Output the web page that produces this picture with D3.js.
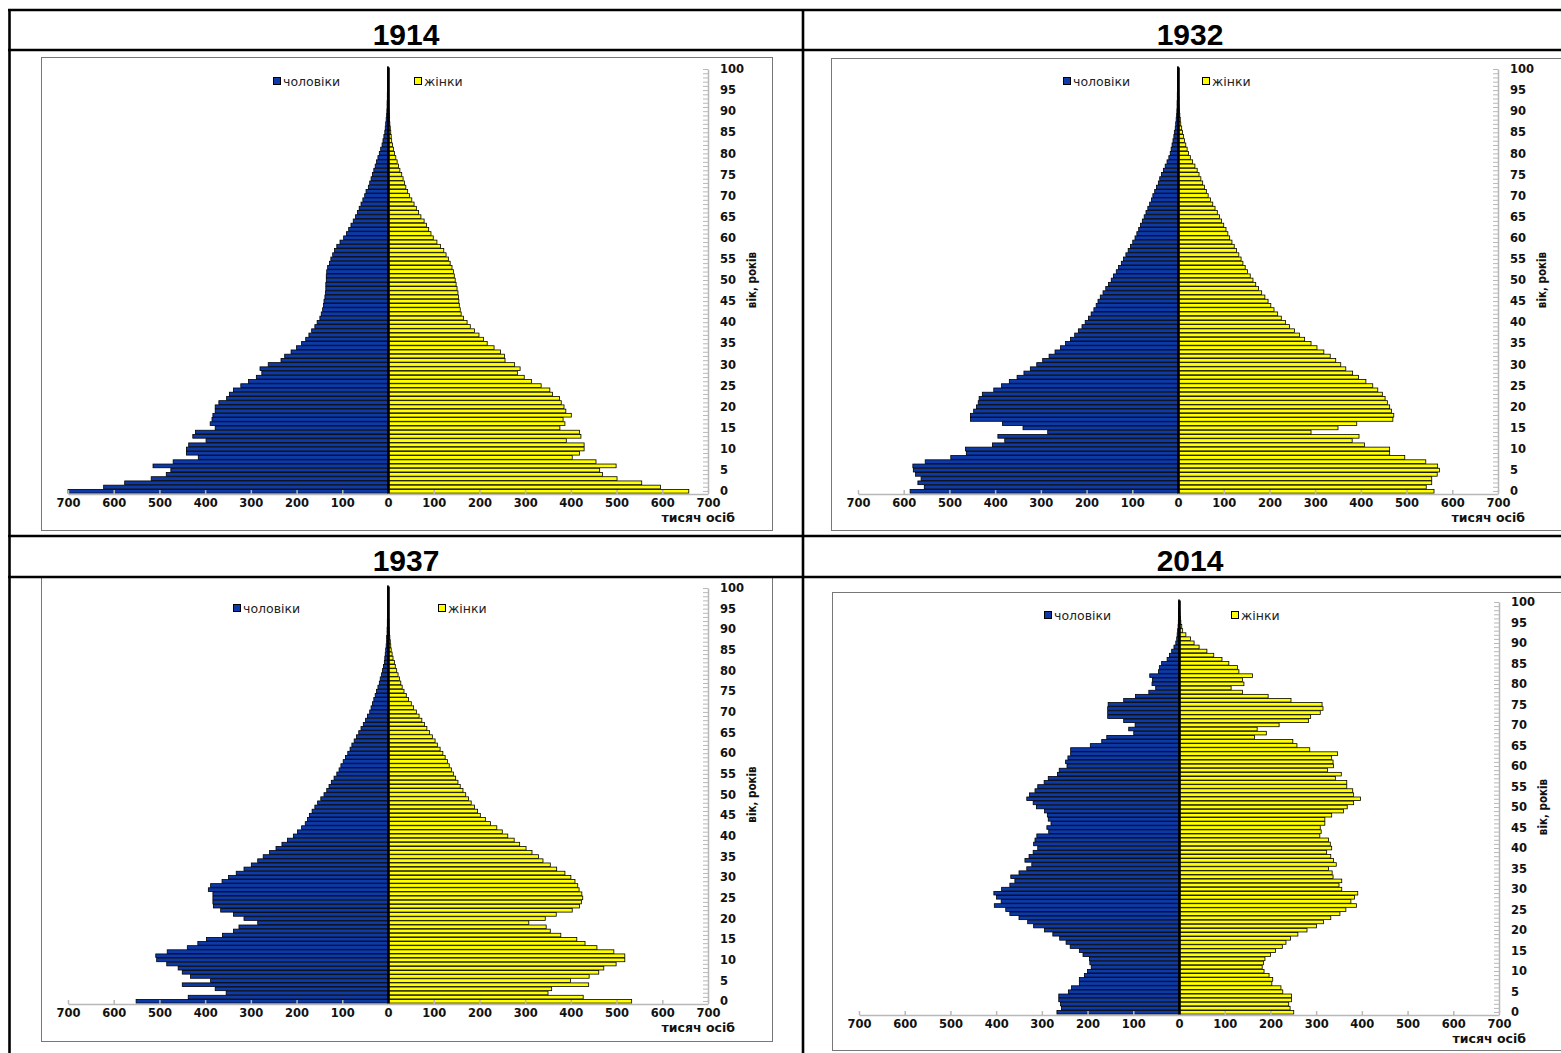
<!DOCTYPE html>
<html>
<head>
<meta charset="utf-8">
<script src="https://cdn.jsdelivr.net/npm/d3@7"></script>
<style>
body{margin:0;background:#fff}
</style>
</head>
<body>
<div id="chart"></div>
<script>
// categories and tick labels
const ages = d3.range(0, 101);
const xTicks = [0, 100, 200, 300, 400, 500, 600, 700];
const ageTicks = d3.range(0, 101, 5);
const legendLabels = ["чоловіки", "жінки"];

// population, thousand persons, index = age in years
const male1914 = [
  700,622,576,518,485,475,514,470,415,441,
  441,436,398,427,421,378,389,385,383,378,
  378,370,353,347,338,322,305,288,276,280,
  262,234,226,212,200,189,180,173,167,160,
  155,149,146,143,141,140,138,137,136,136,
  135,135,134,132,128,125,121,117,112,105,
  97,91,86,81,76,71,67,63,59,55,
  51,48,43,40,37,34,31,28,25,22,
  19,16,13,11,9,7,6,5,4,3,
  2.5,2,2,1.5,1.5,1,1,1,1,1,
  1];
const female1914 = [
  658,596,555,501,469,463,499,455,403,419,
  429,429,390,422,419,376,387,383,401,389,
  385,379,375,360,354,335,314,298,283,289,
  277,256,255,246,232,217,209,199,189,180,
  173,165,160,158,156,155,154,153,151,149,
  147,145,143,140,136,132,127,122,115,107,
  99,94,89,84,79,72,67,62,57,52,
  47,43,39,36,33,30,26,23,20,17,
  14,12,10,8,7,6,5,4,3.5,3,
  2.5,2,2,1.5,1.5,1,1,1,1,1,
  1];
const male1932 = [
  586,555,569,562,574,579,580,553,497,463,
  465,406,379,394,285,339,384,454,454,447,
  441,437,435,428,403,386,369,352,337,323,
  309,296,282,269,257,246,235,226,218,210,
  203,196,190,184,179,175,170,164,158,152,
  146,141,135,130,124,119,114,109,104,99,
  94,90,86,82,78,74,70,66,62,58,
  55,51,47,43,40,36,32,28,24,20,
  17,15,13,11,9,8,6,5,4,3,
  2.5,2,2,1.5,1.5,1,1,1,1,1,
  1];
const female1932 = [
  560,543,555,555,567,572,568,542,496,463,
  463,408,381,396,291,350,391,470,472,467,
  463,458,453,447,437,426,411,395,382,367,
  356,345,333,319,304,291,277,266,255,244,
  235,226,218,210,203,197,190,183,176,170,
  164,158,152,147,142,138,133,128,123,118,
  113,109,105,100,95,91,86,81,76,71,
  66,62,58,54,50,46,42,37,32,27,
  23,20,17,14,12,10,8,6,5,4,
  3,2.5,2,2,1.5,1.5,1,1,1,1,
  1];
const male1937 = [
  551,437,354,378,450,388,432,450,459,484,
  506,508,483,439,416,397,362,338,326,285,
  315,338,366,382,383,383,383,393,388,363,
  349,332,315,299,285,273,259,245,232,220,
  207,198,189,181,176,172,166,160,154,147,
  140,134,129,124,118,112,107,103,98,93,
  88,83,79,74,69,64,59,54,49,45,
  40,37,34,31,28,25,22,19,17,14,
  12,10,8,7,6,5,4,3,3,2,
  2,1.5,1.5,1,1,1,1,1,1,1,
  1];
const female1937 = [
  533,427,350,358,439,399,440,461,472,499,
  518,518,494,457,431,413,378,355,346,308,
  344,368,403,419,423,426,424,418,415,409,
  400,387,369,355,339,329,315,302,288,276,
  262,250,238,224,213,202,196,189,182,176,
  170,164,158,153,148,143,139,134,130,125,
  120,114,108,103,97,91,85,80,74,68,
  62,56,51,45,40,35,31,28,25,22,
  19,16,14,11,9,7,6,5,4,3,
  2.5,2,2,1.5,1.5,1,1,1,1,1,
  1];
const male2014 = [
  267,257,259,263,263,242,235,218,218,207,
  200,192,195,196,210,218,238,247,261,276,
  294,318,331,350,370,379,404,389,399,405,
  388,370,359,368,350,333,322,337,328,319,
  309,318,315,311,285,289,280,286,288,294,
  312,319,333,327,315,309,295,286,266,262,
  245,248,243,237,237,194,169,158,99,110,
  96,121,156,156,156,155,121,95,66,51,
  59,58,64,45,43,38,26,21,16,11,
  7,5,4,3,2,1.5,1,1,1,0.5,
  0.5];
const female2014 = [
  251,243,240,246,246,227,223,203,205,197,
  186,182,185,188,200,211,226,234,244,260,
  280,301,316,332,352,365,388,376,384,391,
  356,350,356,337,335,327,344,338,332,323,
  334,331,327,308,311,309,319,319,334,360,
  368,382,397,382,380,367,367,342,355,325,
  338,337,334,347,286,258,249,165,191,171,
  219,283,288,309,315,313,245,195,139,114,
  142,139,161,131,128,109,94,76,61,44,
  33,25,15,8,6,4,3,2,1.5,1,
  1];

const W = 1561, H = 1053;
const blue = "#0d3aa9", yellow = "#ffff00";
const tickFont = "'DejaVu Sans', Verdana, sans-serif";

const svg = d3.select("#chart").append("svg")
  .attr("width", W)
  .attr("height", H);

svg.append("rect").attr("width", W).attr("height", H).attr("fill", "#fff");

// panel layout (positions only)
const panels = [
  {year: "1914", male: male1914, female: female1914, head: [406, 45],
   frame: [41, 57, 772, 530], cx: 388, y0: 491, y100: 69, legY: 81, legM: -115, legF: 26},
  {year: "1932", male: male1932, female: female1932, head: [1190, 45],
   frame: [831, 58, 1563, 530], cx: 1178, y0: 491, y100: 69, legY: 81, legM: -115, legF: 24},
  {year: "1937", male: male1937, female: female1937, head: [406, 571],
   frame: [41, 577, 772, 1041], cx: 388, y0: 1001, y100: 588, legY: 608, legM: -155, legF: 50},
  {year: "2014", male: male2014, female: female2014, head: [1190, 571],
   frame: [832, 592, 1563, 1050], cx: 1179, y0: 1012, y100: 602, legY: 615, legM: -135, legF: 52}
];
const half = 320;

function drawPanel(p) {
  const g = svg.append("g");

  // chart frame
  g.append("rect")
    .attr("x", p.frame[0] + 0.5)
    .attr("y", p.frame[1] + 0.5)
    .attr("width", p.frame[2] - p.frame[0])
    .attr("height", p.frame[3] - p.frame[1])
    .attr("fill", "#fff")
    .attr("stroke", "#777")
    .attr("stroke-width", 1);

  const step = (p.y0 - p.y100) / 100;
  const y = d3.scaleBand()
    .domain(ages)
    .range([p.y0 + step / 2, p.y100 - step / 2])
    .paddingInner(0.12);
  const xL = d3.scaleLinear().domain([0, 700]).range([p.cx, p.cx - half]);
  const xR = d3.scaleLinear().domain([0, 700]).range([p.cx, p.cx + half]);
  const yAge = d3.scaleLinear().domain([0, 100]).range([p.y0, p.y100]);

  // bars
  g.selectAll("rect.male")
    .data(ages)
    .enter().append("rect")
    .attr("class", "male")
    .attr("x", d => xL(p.male[d]))
    .attr("y", d => y(d))
    .attr("width", d => p.cx - xL(p.male[d]))
    .attr("height", y.bandwidth())
    .attr("fill", blue)
    .attr("stroke", "#000")
    .attr("stroke-width", 0.8);

  g.selectAll("rect.female")
    .data(ages)
    .enter().append("rect")
    .attr("class", "female")
    .attr("x", p.cx)
    .attr("y", d => y(d))
    .attr("width", d => xR(p.female[d]) - p.cx)
    .attr("height", y.bandwidth())
    .attr("fill", yellow)
    .attr("stroke", "#000")
    .attr("stroke-width", 0.8);

  // bottom value axis
  const axisY = p.y0 + step / 2 + 1;
  const xLeftAxis = d3.axisBottom(xL).tickValues(xTicks.slice(1))
    .tickSize(-4).tickSizeOuter(0).tickPadding(5);
  const xRightAxis = d3.axisBottom(xR).tickValues(xTicks)
    .tickSize(-4).tickSizeOuter(0).tickPadding(5);
  [xLeftAxis, xRightAxis].forEach(ax => {
    const ga = g.append("g")
      .attr("transform", "translate(0," + axisY + ")")
      .call(ax);
    ga.selectAll("path, line").attr("stroke", "#b8b8b8").attr("stroke-width", 1.5);
    ga.selectAll("text")
      .attr("font-family", tickFont)
      .attr("font-size", 11.5)
      .attr("font-weight", "bold")
      .attr("fill", "#111");
  });

  // right age axis: minor ticks every year, labels every 5
  const ax = p.cx + half;
  const minor = g.append("g")
    .attr("transform", "translate(" + ax + ",0)")
    .call(d3.axisRight(yAge).tickValues(ages).tickSize(-5).tickSizeOuter(0).tickFormat(""));
  minor.selectAll("path, line").attr("stroke", "#b8b8b8");
  minor.select(".domain").attr("stroke-width", 1.5);

  const major = g.append("g")
    .attr("transform", "translate(" + ax + ",0)")
    .call(d3.axisRight(yAge).tickValues(ageTicks).tickSize(0).tickPadding(12));
  major.select(".domain").remove();
  major.selectAll("text")
    .attr("font-family", tickFont)
    .attr("font-size", 11.5)
    .attr("font-weight", "bold")
    .attr("fill", "#111");

  // centre category axis
  const mid = g.append("g")
    .attr("transform", "translate(" + p.cx + ",0)")
    .call(d3.axisLeft(y).tickSize(0).tickFormat(""));
  mid.select(".domain").attr("stroke", "#000").attr("stroke-width", 2.6);

  // axis titles
  g.append("text")
    .attr("x", p.cx + 347)
    .attr("y", p.y0 + 31)
    .attr("text-anchor", "end")
    .attr("font-family", tickFont)
    .attr("font-size", 12.5)
    .attr("font-weight", "bold")
    .attr("fill", "#111")
    .text("тисяч осіб");

  g.append("text")
    .attr("transform", "translate(" + (p.cx + 368) + "," + ((p.y0 + p.y100) / 2) + ") rotate(-90)")
    .attr("text-anchor", "middle")
    .attr("font-family", "'DejaVu Sans Condensed', 'Liberation Sans Narrow', sans-serif")
    .attr("font-size", 11.5)
    .attr("font-weight", "bold")
    .attr("fill", "#111")
    .text("вік, років");

  // legend
  const leg = [
    {label: legendLabels[0], color: blue, dx: p.legM},
    {label: legendLabels[1], color: yellow, dx: p.legF}
  ];
  leg.forEach(l => {
    g.append("rect")
      .attr("x", p.cx + l.dx + 0.5)
      .attr("y", p.legY - 3.5)
      .attr("width", 7)
      .attr("height", 7)
      .attr("fill", l.color)
      .attr("stroke", "#000")
      .attr("stroke-width", 1);
    g.append("text")
      .attr("x", p.cx + l.dx + 10)
      .attr("y", p.legY + 4.5)
      .attr("font-family", tickFont)
      .attr("font-size", 12.5)
      .attr("fill", "#222")
      .text(l.label);
  });

  // year header
  svg.append("text")
    .attr("x", p.head[0])
    .attr("y", p.head[1])
    .attr("text-anchor", "middle")
    .attr("font-family", "'Liberation Sans', Arial, sans-serif")
    .attr("font-size", 30)
    .attr("font-weight", "bold")
    .attr("fill", "#000")
    .text(p.year);
}

panels.forEach(drawPanel);

// table grid
const grid = svg.append("g").attr("stroke", "#000").attr("stroke-width", 2.6);
grid.append("line").attr("x1", 8).attr("x2", W).attr("y1", 10).attr("y2", 10);
grid.append("line").attr("x1", 8).attr("x2", W).attr("y1", 50).attr("y2", 50);
grid.append("line").attr("x1", 8).attr("x2", W).attr("y1", 536).attr("y2", 536);
grid.append("line").attr("x1", 8).attr("x2", W).attr("y1", 577).attr("y2", 577);
grid.append("line").attr("x1", 9.5).attr("x2", 9.5).attr("y1", 9).attr("y2", H);
grid.append("line").attr("x1", 803).attr("x2", 803).attr("y1", 9).attr("y2", H);
</script>
</body>
</html>
